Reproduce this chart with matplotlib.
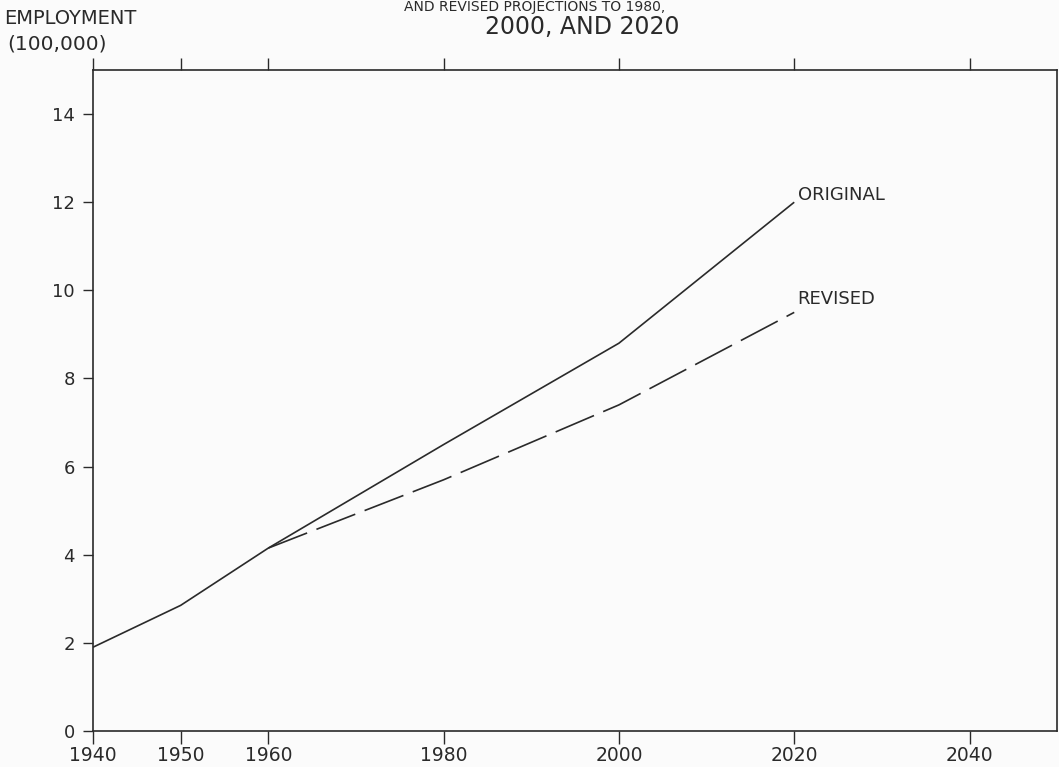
import matplotlib.pyplot as plt

# ─── Data ─────────────────────────────────────────────────────────────────────
years_original = [1940, 1950, 1960, 1980, 2000, 2020]
employment_original = [1.9, 2.85, 4.15, 6.5, 8.8, 12.0]

years_revised = [1960, 1980, 2000, 2020]
employment_revised = [4.15, 5.7, 7.4, 9.5]

x_ticks = [1940, 1950, 1960, 1980, 2000, 2020, 2040]
y_ticks = [0, 2, 4, 6, 8, 10, 12, 14]

INK = "#2a2a2a"
plt.rcParams["font.family"] = ["DejaVu Sans"]

fig = plt.figure(figsize=(10.59, 7.67), dpi=100)
fig.patch.set_facecolor("#fbfbfb")
ax = fig.add_axes([0.0878, 0.047, 0.9105, 0.8617])
ax.set_facecolor("#fbfbfb")

ax.plot(years_original, employment_original, color=INK, lw=1.2,
        solid_capstyle="butt")
line_rev, = ax.plot(years_revised, employment_revised, color=INK, lw=1.2)
line_rev.set_dashes([25, 6])

ax.text(years_original[-1] + 0.4, employment_original[-1] - 0.05, "ORIGINAL",
        fontsize=13, color=INK, ha="left", va="bottom")
ax.text(years_revised[-1] + 0.4, employment_revised[-1] + 0.1, "REVISED",
        fontsize=13, color=INK, ha="left", va="bottom")

ax.set_xlim(1940, 2050)
ax.set_ylim(0, 15)
ax.set_xticks(x_ticks)
ax.set_xticklabels([str(y) for y in x_ticks], fontsize=13.5, color=INK)
ax.set_yticks(y_ticks)
ax.set_yticklabels([str(v) for v in y_ticks], fontsize=13, color=INK)
ax.tick_params(axis="x", direction="out", length=9, width=1, top=True,
               bottom=True, labeltop=False, colors=INK, pad=2)
ax.tick_params(axis="y", direction="out", length=7, width=1, left=True,
               right=False, colors=INK, pad=6)
for side in ax.spines.values():
    side.set_color(INK)
    side.set_linewidth(1.2)

# axis caption and (cropped) title
fig.text(0.004, 0.976, "EMPLOYMENT", fontsize=14, color=INK,
         ha="left", va="center")
fig.text(0.007, 0.943, "(100,000)", fontsize=14.5, color=INK,
         ha="left", va="center")
fig.text(0.55, 0.965, "2000, AND 2020", fontsize=17, color=INK,
         ha="center", va="center")
fig.text(0.505, 1.0, "AND REVISED PROJECTIONS TO 1980,", fontsize=10,
         color=INK, ha="center", va="top")

fig.savefig("out.png", dpi=100, facecolor=fig.get_facecolor())
